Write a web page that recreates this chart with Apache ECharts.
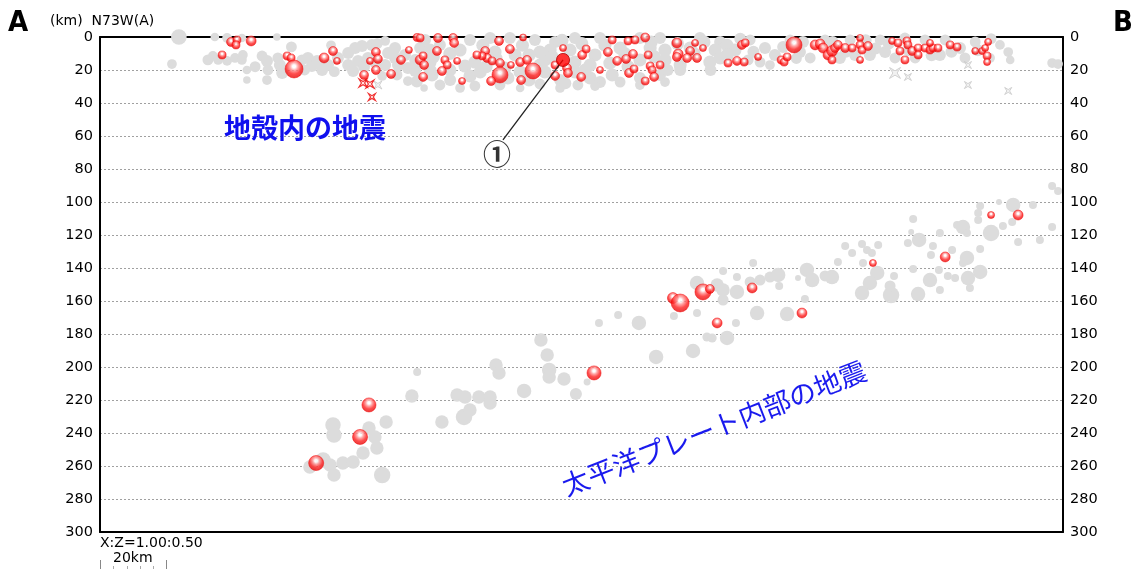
<!DOCTYPE html>
<html><head><meta charset="utf-8">
<script src="https://cdn.jsdelivr.net/npm/echarts@6/dist/echarts.min.js"></script>
<style>html,body{margin:0;padding:0;background:#fff}#c{width:1135px;height:569px}</style>
</head><body><div id="c"></div>
<script>
// distance along profile (km), depth (km), magnitude-like size value
const depthTicks = [0,20,40,60,80,100,120,140,160,180,200,220,240,260,280,300];
const shallowGray = [[23.9,0,4.1],[21.8,16.4,2.5],[34.8,0,2.2],[38.5,0.6,2.5],[43.0,0.6,2.2],[32.7,13.9,2.8],[34.2,11.5,2.5],[35.8,13.9,2.5],[38.5,14.5,2.5],[40.9,12.7,2.5],[43.0,13.9,2.5],[43.3,10.9,2.5],[44.5,20.0,2.2],[44.5,26.1,1.9],[49.1,11.5,2.8],[50.6,14.5,3.1],[50.9,20.0,2.8],[50.6,26.1,2.5],[53.6,0,1.9],[53.9,12.7,2.8],[54.5,17.0,3.1],[55.2,21.8,3.1],[61.2,13.9,2.8],[63.0,12.7,3.1],[64.2,17.6,3.1],[65.8,14.5,3.1],[67.3,20.0,3.1],[69.1,17.0,3.1],[72.1,12.7,3.1],[75.2,9.7,3.1],[77.3,6.7,3.1],[79.4,5.5,3.1],[75.2,17.0,3.1],[76.7,20.6,3.1],[78.2,14.5,3.1],[86.4,2.4,2.5],[87.3,9.7,3.1],[89.4,6.7,3.1],[90.3,17.0,3.1],[86.4,17.0,3.1],[85.5,23.6,2.5],[90.0,23.0,2.8],[93.3,18.8,3.1],[95.5,20.6,3.1],[93.3,26.7,2.5],[82.4,4.8,3.1],[81.2,12.7,3.1],[89.4,12.7,3.1],[92.4,10.9,3.1],[83.3,15.2,3.1],[97.0,6.7,3.1],[95.5,13.9,3.1],
[98.5,1.8,3.1],[103.0,4.8,3.1],[112.1,1.8,3.1],[118.2,0.6,3.1],[124.2,0.6,3.1],[131.8,1.8,3.1],[137.9,3.0,3.1],[143.9,0.6,3.1],[151.5,0.6,3.1],[163.6,0.6,3.1],[169.7,0.6,3.1],[181.8,0.6,3.1],[187.9,3.0,3.1],
[100.0,7.9,3.4],[109.1,7.9,3.4],[119.7,9.1,3.4],[125.8,10.9,3.4],[133.3,9.1,3.4],[136.4,7.9,3.4],[142.4,7.9,3.4],[150.0,10.9,3.4],[157.6,6.7,3.4],[166.7,6.7,3.4],[171.2,7.9,3.4],[178.8,6.7,3.4],[186.4,7.9,3.4],[192.4,7.9,3.4],
[100.0,15.2,3.4],[110.6,17.6,3.4],[113.6,15.2,3.4],[122.7,18.8,3.4],[133.3,17.0,3.4],[134.8,13.9,3.4],[143.9,15.2,3.4],[148.5,17.0,3.4],[154.5,15.8,3.4],[163.6,13.9,3.4],[171.2,13.9,3.4],[175.8,17.0,3.4],[184.8,15.2,3.4],[187.9,12.7,3.4],
[100.6,23.0,3.4],[106.1,26.1,3.1],[112.1,23.6,3.4],[115.2,21.2,3.4],[123.6,24.8,3.4],[127.3,21.2,3.4],[134.8,21.2,3.4],[139.4,26.1,3.1],[143.9,21.2,3.4],[148.5,24.8,3.4],[151.5,27.3,3.1],[155.2,23.0,3.4],[163.6,24.8,3.1],[169.7,23.0,3.1],[175.8,20.0,3.1],
[98.2,30.9,1.9],[103.0,29.1,2.8],[109.1,30.9,2.5],[113.6,29.7,2.8],[121.2,29.1,2.8],[127.3,30.9,2.2],[133.3,28.5,2.8],[139.4,30.9,2.5],[144.8,29.1,2.8],[150.0,29.7,2.5],[157.6,27.3,2.8],[163.6,29.1,2.5],[171.2,27.3,2.5],
[197.0,1.8,2.8],[201.5,6.7,3.1],[204.5,10.9,3.1],[209.1,1.8,2.8],[212.1,9.1,3.1],[215.2,12.7,2.8],[219.7,1.8,2.8],[224.2,12.7,3.1],[227.3,1.8,2.8],[228.8,10.9,3.1],[233.3,10.9,3.1],[236.4,1.8,2.8],[237.9,9.1,3.1],[240.9,12.7,2.8],[243.9,0.6,2.8],[247.0,12.7,2.8],[250.0,1.8,2.8],[254.5,10.9,3.1],[256.1,1.8,2.8],[260.6,6.7,3.1],[262.1,12.7,2.8],[265.2,3.0,2.8],[269.7,12.7,2.5],[272.7,4.8,2.5],[275.2,9.1,2.5],[275.8,13.9,2.2],[200.0,15.2,2.8],[203.0,17.0,2.5],[196.4,13.9,2.8],[288.5,15.8,2.5],[290.3,16.4,2.5],
[96.0,27.0,3.1],[101.0,12.0,3.4],[106.0,10.0,3.4],[106.0,20.0,3.4],[116.0,5.0,3.4],[117.0,18.0,3.4],[120.0,13.0,3.4],[128.0,5.0,3.4],[130.0,11.0,3.4],[130.0,26.0,3.4],[137.0,12.0,3.4],[140.0,2.0,3.4],[141.0,28.0,3.1],[146.0,4.0,3.4],[147.0,20.0,3.4],[153.0,5.0,3.4],[159.0,10.0,3.4],[160.0,18.0,3.4],[167.0,3.0,3.4],[168.0,12.0,3.4],[172.0,20.0,3.1],[175.0,4.0,3.4],[180.0,10.0,3.4],[183.0,3.0,3.4],[185.0,20.0,3.1],[190.0,5.0,3.4],[190.0,11.0,3.4],[194.0,1.0,3.1],[198.0,9.0,3.1],[207.0,6.0,3.1],[211.0,13.0,2.8],[213.0,3.0,3.1],[222.0,3.0,3.1],[226.0,9.0,3.1],[232.0,2.0,3.1],[235.0,7.0,3.1],[239.0,4.0,3.1],[245.0,8.0,3.1],[252.0,11.0,3.1],[258.0,9.0,3.1],[266.0,8.0,3.1],[270.0,1.0,2.8],[58.0,6.0,2.8],[62.0,20.0,2.8],[47.0,18.0,2.8],[71.0,21.0,2.8],[80.0,18.0,3.1],[84.0,4.0,2.8],[70.0,5.0,2.5],[100.0,20.0,3.4],[96.0,17.0,3.1]];

const shallowRed = [[39.7,3.0,2.5],[41.5,1.8,2.2],[41.2,4.8,2.2],[45.8,2.4,2.8],[37.0,10.9,2.2],[56.7,11.5,2.2],[57.9,12.7,2.2],[58.8,19.4,5.3],[67.9,12.7,2.8],[70.6,8.5,2.5],[71.8,14.5,1.9],[83.6,9.1,2.5],[84.2,13.3,2.5],[81.8,14.5,1.9],[83.6,20.0,2.5],[80.0,23.0,2.5],[88.2,22.4,2.5],[91.2,13.9,2.5],[93.6,7.9,1.9],[96.1,0.3,2.2],[97.0,0.6,2.2],[97.0,13.9,2.8],[97.9,11.5,2.2],[97.9,24.2,2.5],[102.4,0.6,2.5],[107.0,0.6,2.5],[107.3,3.6,2.5],[102.1,8.5,2.5],[98.2,17.0,2.5],[104.5,13.9,2.2],[105.2,17.0,2.2],[108.2,14.5,1.9],[103.6,20.6,2.5],[109.7,26.7,1.9],[116.7,8.5,2.5],[117.3,12.7,2.5],[115.8,11.5,2.2],[114.2,10.9,2.2],[118.8,14.5,2.2],[121.2,15.8,2.5],[121.2,23.0,4.7],[118.5,26.7,2.5],[120.9,2.4,2.5],[124.2,7.3,2.5],[124.5,17.0,1.9],[127.3,15.2,2.5],[129.4,13.9,2.5],[128.2,0.3,1.9],[131.2,20.6,4.7],[127.6,26.1,2.5],[137.9,17.0,2.2],[137.9,23.6,2.5],[140.3,6.7,1.9],[141.5,18.8,2.5],[141.8,21.8,2.5],[145.8,24.2,2.5],[146.1,10.9,2.5],[147.3,7.3,2.2],[151.5,20.0,1.9],[153.9,9.1,2.5],[155.2,1.8,2.2],[156.7,14.5,2.5],[159.4,13.3,2.5],[160.3,21.8,2.5],[161.8,19.4,2.2],[160.0,2.4,2.2],[162.1,1.8,2.2],[165.2,0.3,2.5],[161.5,10.3,2.5],[166.1,10.9,2.2],[166.7,17.6,2.2],[167.3,20.0,2.2],[169.7,17.0,2.2],[167.9,24.2,2.5],[165.2,26.7,2.2],[174.8,3.6,2.8],[175.2,10.3,2.8],[174.8,12.1,2.5],[178.8,8.5,2.5],[177.9,12.7,2.5],[180.9,12.7,2.5],[180.3,3.6,1.9],[182.7,6.7,1.9],[194.5,4.8,2.5],[193.0,14.5,2.5],[190.3,15.8,2.2],[195.2,15.2,2.2],[195.5,3.6,2.2],[199.4,12.1,1.9],[206.4,13.9,2.2],[207.3,15.2,2.2],[208.2,12.1,2.2],[210.3,4.8,4.7],[216.7,4.8,2.8],[218.2,4.2,2.8],[219.1,6.7,2.8],[220.6,10.9,2.8],[221.8,8.5,3.1],[222.7,6.7,2.5],[223.6,4.8,2.5],[221.8,13.9,2.2],[225.8,6.7,2.5],[227.9,6.7,2.2],[230.3,0.6,1.9],[230.3,4.8,2.2],[230.9,7.9,2.2],[230.3,13.9,1.9],[232.7,5.5,2.5],[240.0,2.4,1.9],[241.8,3.6,2.2],[244.5,2.4,2.2],[244.8,4.8,2.2],[242.4,8.5,2.2],[243.9,13.9,2.2],[246.1,8.5,2.5],[247.9,6.7,2.2],[247.9,10.9,2.2],[250.0,6.7,2.2],[251.5,7.9,2.2],[252.4,6.7,2.2],[253.9,6.7,2.2],[251.5,3.6,1.9],[257.6,4.8,2.2],[259.7,6.1,2.2],[265.2,8.5,1.9],[267.3,8.5,1.9],[268.2,6.7,1.9],[269.1,3.0,1.9],[268.8,11.5,2.2],[268.8,15.2,1.9]];

const deepGray = [[63.6,260.6,3.8],[67.6,256.4,4.4],[69.7,259.4,3.8],[70.9,265.5,3.8],[73.6,258.2,3.8],[76.7,257.6,3.8],[79.7,252.1,3.8],[70.6,235.2,4.4],[70.9,241.2,4.4],[81.5,237.0,3.8],[83.3,242.4,3.8],[83.9,249.1,3.8],[86.7,233.3,3.8],[85.5,265.5,4.7],[94.5,217.6,3.8],[96.1,203.0,2.2],[103.6,233.3,3.8],[108.2,217.0,3.8],[110.6,218.2,3.8],[110.3,230.3,4.7],[112.1,226.1,3.8],[114.8,218.2,3.8],[118.2,218.2,3.8],[118.2,221.8,3.8],[120.0,198.8,3.8],[120.9,203.6,3.8],[128.5,214.5,4.1],[133.6,183.6,3.8],[135.5,192.7,3.8],[136.1,201.8,4.1],[136.1,206.1,3.8],[140.6,207.3,3.8],[144.2,216.4,3.4],[147.6,209.1,1.9],[151.2,173.3,2.2],[157.0,168.5,2.2],[163.3,173.3,4.1],[168.5,193.9,4.1],[179.7,190.3,4.1],[183.9,181.8,2.5],[185.5,182.4,2.5],[190.0,182.4,4.1],[192.7,173.3,2.2],[173.9,169.1,2.2],[180.9,167.3,2.2],[199.1,167.3,4.1],[208.2,167.9,4.1],[213.6,158.8,2.2],[180.9,149.1,4.1],[187.0,150.3,3.8],[188.8,153.3,3.8],[193.0,154.5,4.1],[188.8,159.4,3.1],[188.8,141.8,2.2],[193.0,145.5,2.2],[197.9,137.0,2.2],[197.0,148.5,3.1],[200.0,147.3,3.1],[203.0,145.5,3.1],[205.5,144.2,4.1],[205.8,150.9,2.2],[211.5,146.1,1.6],[214.2,141.2,4.1],[215.8,147.3,4.1],[219.7,144.8,3.1],[221.8,145.5,4.1],[223.6,136.4,2.2],[225.8,126.7,2.2],[227.9,130.9,2.2],[230.9,125.5,2.2],[232.4,129.1,2.2],[233.9,130.9,2.2],[235.8,126.1,2.2],[231.2,137.0,2.2],[235.5,143.0,4.1],[233.3,149.1,4.1],[230.9,155.2,4.1],[240.6,144.8,2.2],[239.7,156.4,4.7],[239.4,150.9,3.1],[246.4,110.3,2.2],[245.8,118.2,1.6],[244.8,124.8,2.2],[248.2,123.0,4.1],[246.4,140.6,2.2],[251.8,132.1,2.2],[252.4,126.7,2.2],[254.5,118.8,2.2],[258.2,129.1,2.2],[251.5,147.3,4.1],[247.9,155.8,4.1],[254.2,141.2,2.2],[254.5,153.3,2.2],[256.9,144.8,2.2],[259.1,146.1,2.2],[259.7,113.9,2.2],[261.5,115.2,4.1],[262.7,118.8,2.2],[262.7,133.9,4.1],[261.5,137.0,2.2],[266.7,142.4,4.1],[263.0,146.1,4.1],[263.6,152.1,2.2],[266.7,128.5,2.2],[270.0,118.8,4.7],[273.6,114.5,2.2],[276.4,112.1,2.2],[276.7,101.8,4.1],[266.7,102.4,2.2],[272.4,100.0,1.6],[266.1,106.7,2.2],[266.1,110.9,2.2],[282.7,101.8,2.2],[278.2,124.2,2.2],[284.8,123.0,2.2],[288.5,115.2,2.2],[288.5,90.3,2.2],[290.3,93.3,2.2]];

const deepRed = [[65.5,258.2,4.4],[78.8,242.4,4.4],[81.5,223.0,4.1],[149.7,203.6,4.1],[173.6,158.2,3.1],[175.8,161.2,5.3],[182.7,154.5,4.7],[184.8,152.7,2.5],[187.0,173.3,2.8],[197.6,152.1,2.8],[212.7,167.3,2.8],[234.2,137.0,1.9],[256.1,133.3,2.8],[270.0,107.9,1.9],[278.2,107.9,2.8]];

const grayStars = [[240.9,21.8,3.1],[244.8,24.2,1.9],[263.0,17.0,1.9],[263.0,29.1,1.9],[275.2,32.7,1.9],[84.2,29.1,2.2]];
const redStars = [[79.7,27.9,2.2],[81.8,28.5,2.2],[82.4,36.4,1.9]];
const markedQuake = [[140.3,13.9,4.1]];
const calloutLine = [[122.1,62.4],[140.3,13.9]];
const calloutLabel = [[120.3,70.9]];

const shallowGraySize = v => v[2] * 3.7 + 0.5;
const deepGraySize = v => v[2] * 3.4 + 0.5;
const redSize = v => v[2] * 3.2 + 1;
const sphere = {type:'radial', x:0.5, y:0.36, r:0.68, colorStops:[
  {offset:0,color:'#ffffff'},{offset:0.12,color:'#ffffff'},{offset:0.32,color:'#ff9090'},{offset:0.6,color:'#ff2020'},{offset:1,color:'#dd0000'}]};
const starPath = 'path://M0,0 L5,3 L10,0 L7,5 L10,10 L5,7 L0,10 L3,5 Z';

const chart = echarts.init(document.getElementById('c'), null, {renderer:'canvas'});
const axisFont = {fontFamily:'DejaVu Sans', fontSize:14.5, color:'#000'};
chart.setOption({
  backgroundColor:'#fff',
  animation:false,
  grid:{left:100, right:72, top:37, bottom:37},
  xAxis:[
    {type:'value', min:0, max:291.8, position:'bottom', axisLine:{show:true, onZero:false, lineStyle:{color:'#000', width:2}}, axisTick:{show:false}, axisLabel:{show:false}, splitLine:{show:false}},
    {type:'value', min:0, max:291.8, position:'top', axisLine:{show:true, onZero:false, lineStyle:{color:'#000', width:2}}, axisTick:{show:false}, axisLabel:{show:false}, splitLine:{show:false}}
  ],
  yAxis:[
    {type:'value', inverse:true, min:0, max:300, interval:20, position:'left',
     axisLine:{show:true, onZero:false, lineStyle:{color:'#000', width:2}}, axisTick:{show:false},
     axisLabel:Object.assign({margin:7, formatter:v=>depthTicks.includes(v)?String(v):''}, axisFont),
     splitLine:{show:true, lineStyle:{color:'#a0a0a0', type:[2,2], width:1}}},
    {type:'value', inverse:true, min:0, max:300, interval:20, position:'right',
     axisLine:{show:true, onZero:false, lineStyle:{color:'#000', width:2}}, axisTick:{show:false},
     axisLabel:Object.assign({margin:7, formatter:v=>depthTicks.includes(v)?String(v):''}, axisFont),
     splitLine:{show:false}}
  ],
  series:[
    {type:'scatter', data:shallowGray, symbolSize:shallowGraySize, itemStyle:{color:'#dcdcdc', opacity:1}, z:2},
    {type:'scatter', data:deepGray, symbolSize:deepGraySize, itemStyle:{color:'#dcdcdc', opacity:1}, z:2},
    {type:'scatter', data:grayStars, symbol:starPath, symbolSize:redSize, itemStyle:{color:'#eeeeee', borderColor:'#c8c8c8', borderWidth:1}, z:3},
    {type:'scatter', data:redStars, symbol:starPath, symbolSize:redSize, itemStyle:{color:'#ffe0e0', borderColor:'#ee0000', borderWidth:1.2}, z:3},
    {type:'scatter', data:shallowRed, symbolSize:redSize, itemStyle:{color:sphere, borderColor:'#f00000', borderWidth:0.6}, z:4},
    {type:'scatter', data:deepRed, symbolSize:redSize, itemStyle:{color:sphere, borderColor:'#f00000', borderWidth:0.6}, z:4},
    {type:'line', data:calloutLine, symbol:'none', lineStyle:{color:'#222', width:1.3}, z:5},
    {type:'scatter', data:markedQuake, symbolSize:v=>v[2]*3.2, itemStyle:{color:'#ff0000', borderColor:'#b00000', borderWidth:1}, z:6},
    {type:'scatter', data:calloutLabel, symbolSize:0, z:6,
     label:{show:true, position:'inside', formatter:'①', fontSize:28, fontWeight:'bold', color:'#000', fontFamily:'Noto Sans CJK JP'}}
  ],
  graphic:[
    {type:'text', left:8, top:9, style:{text:'A', fontSize:29, fontWeight:'bold', fontFamily:'Liberation Sans Narrow, DejaVu Sans Condensed, sans-serif', fill:'#000'}},
    {type:'text', left:1113, top:9, style:{text:'B', fontSize:29, fontWeight:'bold', fontFamily:'Liberation Sans Narrow, DejaVu Sans Condensed, sans-serif', fill:'#000'}},
    {type:'text', left:50, top:14, style:{text:'(km)  N73W(A)', fontSize:14, fontFamily:'DejaVu Sans', fill:'#000'}},
    {type:'text', left:100, top:536, style:{text:'X:Z=1.00:0.50', fontSize:14, fontFamily:'DejaVu Sans', fill:'#000'}},
    {type:'text', left:113, top:551, style:{text:'20km', fontSize:14, fontFamily:'DejaVu Sans', fill:'#000'}},
    {type:'line', shape:{x1:100.5,y1:560,x2:100.5,y2:569}, style:{stroke:'#888', lineWidth:1}},
    {type:'line', shape:{x1:166.5,y1:560,x2:166.5,y2:569}, style:{stroke:'#888', lineWidth:1}},
    {type:'line', shape:{x1:113.5,y1:566,x2:113.5,y2:569}, style:{stroke:'#aaa', lineWidth:1}},
    {type:'line', shape:{x1:127.5,y1:566,x2:127.5,y2:569}, style:{stroke:'#aaa', lineWidth:1}},
    {type:'line', shape:{x1:140.5,y1:566,x2:140.5,y2:569}, style:{stroke:'#aaa', lineWidth:1}},
    {type:'line', shape:{x1:153.5,y1:566,x2:153.5,y2:569}, style:{stroke:'#aaa', lineWidth:1}},
    {type:'text', x:305, y:128, z:10, style:{text:'地殻内の地震', fontSize:27, fontWeight:'bold', fontFamily:'Noto Sans CJK JP', fill:'#1010ee', align:'center', verticalAlign:'middle'}},
    {type:'text', x:714, y:428, z:10, rotation:21.3*Math.PI/180, style:{text:'太平洋プレート内部の地震', fontSize:27, fontFamily:'Noto Sans CJK JP', fill:'#1a1aee', align:'center', verticalAlign:'middle'}}
  ]
});
</script>
</body></html>
